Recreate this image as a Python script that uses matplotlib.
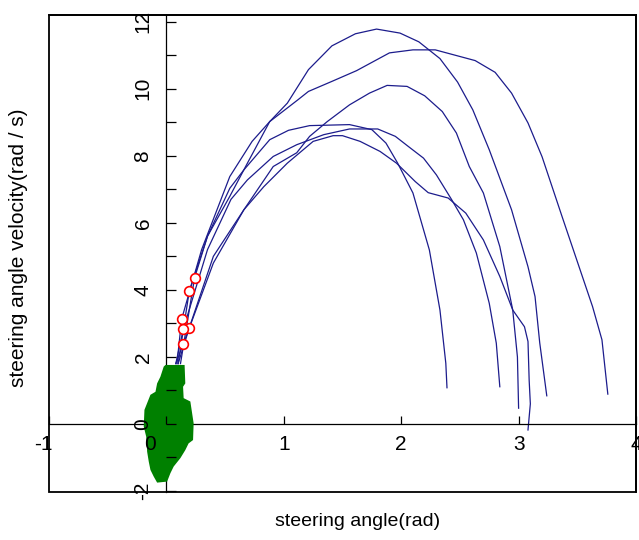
import matplotlib
matplotlib.use("Agg")
import matplotlib.pyplot as plt
from matplotlib.patches import Rectangle
from matplotlib.ticker import MultipleLocator, FuncFormatter
import matplotlib.transforms as mtransforms

plt.rcParams["font.family"] = ["Liberation Sans", "DejaVu Sans"]

# phase trajectories (steering angle, steering angle velocity)
curve_hi_x = [0.12, 0.24, 0.35, 0.54, 0.69, 0.88, 1.03, 1.21, 1.41, 1.61, 1.79, 1.99, 2.15, 2.33,
              2.48, 2.61, 2.75, 2.94, 3.08, 3.14, 3.18, 3.24]
curve_hi_y = [1.8, 4.36, 5.6, 6.79, 7.78, 9.02, 9.57, 10.57, 11.28, 11.64, 11.78, 11.66, 11.4, 10.9,
              10.2, 9.37, 8.18, 6.39, 4.69, 3.8, 2.42, 0.84]

curve_b_x = [0.09, 0.13, 0.3, 0.54, 0.73, 0.88, 1.12, 1.21, 1.41, 1.62, 1.9, 2.1, 2.29, 2.63, 2.8,
             2.94, 3.08, 3.2, 3.37, 3.63, 3.71, 3.76]
curve_b_y = [1.8, 3.13, 5.2, 7.38, 8.43, 9.02, 9.67, 9.92, 10.22, 10.54, 11.07, 11.16, 11.16, 10.84,
             10.49, 9.87, 8.98, 7.97, 6.19, 3.5, 2.51, 0.89]

curve_c_x = [0.1, 0.195, 0.4, 0.66, 0.91, 1.11, 1.22, 1.37, 1.56, 1.73, 1.88, 2.05, 2.2, 2.35, 2.47,
             2.58, 2.7, 2.84, 2.95, 2.99, 3.0]
curve_c_y = [1.8, 2.87, 5.0, 6.39, 7.68, 8.09, 8.58, 9.02, 9.52, 9.87, 10.1, 10.07, 9.79, 9.32, 8.68,
             7.68, 6.89, 5.29, 3.4, 2.0, 0.47]

curve_d_x = [0.1, 0.195, 0.35, 0.54, 0.66, 0.88, 1.04, 1.22, 1.56, 1.75, 1.87, 1.97, 2.1, 2.24, 2.33,
             2.38, 2.39]
curve_d_y = [1.8, 3.97, 5.6, 7.03, 7.58, 8.48, 8.76, 8.9, 8.93, 8.78, 8.38, 7.78, 6.89, 5.19, 3.4,
             1.81, 1.08]

curve_e_x = [0.08, 0.145, 0.35, 0.55, 0.69, 0.91, 1.11, 1.34, 1.56, 1.8, 1.95, 2.06, 2.19, 2.3, 2.43,
             2.53, 2.64, 2.75, 2.81, 2.84]
curve_e_y = [1.8, 2.84, 5.2, 6.7, 7.28, 7.98, 8.33, 8.63, 8.8, 8.8, 8.58, 8.28, 7.93, 7.43, 6.69,
             6.09, 5.1, 3.6, 2.41, 1.11]

curve_f_x = [0.08, 0.145, 0.4, 0.66, 0.83, 1.03, 1.25, 1.42, 1.5, 1.65, 1.82, 1.96, 2.12, 2.23, 2.4,
             2.55, 2.7, 2.84, 2.95, 3.05, 3.08, 3.09, 3.1, 3.08]
curve_f_y = [1.8, 2.39, 4.8, 6.39, 7.08, 7.78, 8.43, 8.6, 8.6, 8.43, 8.13, 7.78, 7.23, 6.9, 6.74,
             6.29, 5.49, 4.4, 3.4, 2.9, 2.46, 1.3, 0.6, -0.18]

# initial states (red circles)
start_x = [0.24, 0.13, 0.195, 0.195, 0.145, 0.145]
start_y = [4.36, 3.13, 2.87, 3.97, 2.84, 2.39]

# green target region outline
region_x = [-0.008, 0.155, 0.161, 0.142, 0.147, 0.204, 0.232, 0.227, 0.189, 0.161, 0.119, 0.062,
            0.034, 0.006, -0.079, -0.108, -0.136, -0.15, -0.164, -0.172, -0.193, -0.187, -0.136,
            -0.093, -0.079, -0.051, -0.023]
region_y = [1.76, 1.76, 1.21, 1.11, 0.77, 0.67, 0.02, -0.48, -0.58, -0.78, -1.02, -1.27, -1.47,
            -1.72, -1.75, -1.57, -1.37, -1.13, -0.83, -0.38, -0.08, 0.42, 0.87, 0.96, 1.21, 1.41,
            1.71]

curves = [
    (curve_hi_x, curve_hi_y),
    (curve_b_x, curve_b_y),
    (curve_c_x, curve_c_y),
    (curve_d_x, curve_d_y),
    (curve_e_x, curve_e_y),
    (curve_f_x, curve_f_y),
]

fig = plt.figure(figsize=(6.39, 5.40), dpi=100)
ax = fig.add_axes([49 / 639, 1 - 492 / 540, 587 / 639, 477 / 540])

for cx, cy in curves:
    ax.plot(cx, cy, color="#1c1c8c", lw=0.9, zorder=2)

ax.fill(region_x, region_y, color="#008000", lw=0, zorder=3)
ax.plot(start_x, start_y, linestyle="none", marker="o", markersize=7,
        markerfacecolor="white", markeredgecolor="red", markeredgewidth=1.2, zorder=4)

ax.set_xlim(-1, 4)
ax.set_ylim(-2.03, 12.2)

# axes crossing at the origin, plus a box frame
ax.spines["left"].set_position(("data", 0))
ax.spines["bottom"].set_position(("data", 0))
for side in ["left", "bottom"]:
    ax.spines[side].set_linewidth(0.9)
for side in ["top", "right"]:
    ax.spines[side].set_linewidth(1.3)
ax.add_patch(Rectangle((0, 0), 1, 1, transform=ax.transAxes, fill=False, lw=1.3,
                       edgecolor="black", clip_on=False, zorder=5))
# tick labels stay readable on top of the green region
ax.xaxis.set_zorder(6)
ax.yaxis.set_zorder(6)

ax.xaxis.set_major_locator(MultipleLocator(1))
ax.yaxis.set_major_locator(MultipleLocator(2))
ax.yaxis.set_minor_locator(MultipleLocator(1))
ax.yaxis.set_major_formatter(FuncFormatter(lambda v, p: f"{v:g}"))
ax.xaxis.set_major_formatter(FuncFormatter(lambda v, p: f"{v:g}"))
ax.tick_params(axis="x", which="both", direction="in", length=6, width=0.9,
               labelsize=15, pad=8)
ax.tick_params(axis="y", which="both", direction="in", length=7, width=0.9,
               labelsize=15, pad=10, labelrotation=90)
for lab in ax.get_yticklabels():
    lab.set_verticalalignment("center")

ax.set_xlabel("steering angle(rad)", fontsize=14)
ax.set_ylabel("steering angle velocity(rad / s)", fontsize=15)
ax.xaxis.set_label_coords(0.525, -0.045)
ax.yaxis.set_label_coords(-0.036, 0.512)

# the "0" on the x axis sits left of the vertical axis
fig.canvas.draw()
for tick in ax.xaxis.get_major_ticks():
    if abs(tick.get_loc()) < 1e-9:
        off = mtransforms.ScaledTranslation(-16 / 100, 0, fig.dpi_scale_trans)
        tick.label1.set_transform(tick.label1.get_transform() + off)
    if abs(tick.get_loc() + 1) < 1e-9:
        off = mtransforms.ScaledTranslation(-6 / 100, 0, fig.dpi_scale_trans)
        tick.label1.set_transform(tick.label1.get_transform() + off)

fig.savefig("out.png", dpi=100)
